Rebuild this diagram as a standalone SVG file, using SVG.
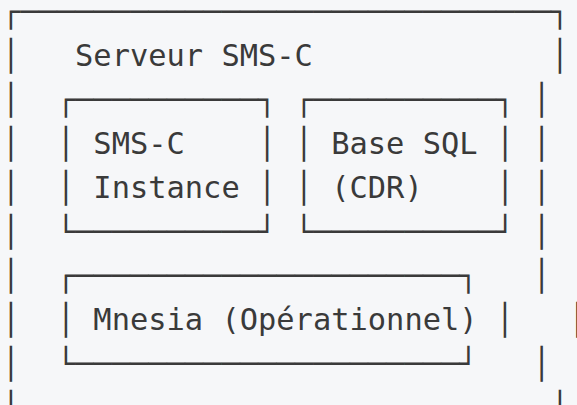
<svg xmlns="http://www.w3.org/2000/svg" width="577" height="405" viewBox="0 0 577 405">
<style>
  .t { font-family: "DejaVu Sans Mono", "Liberation Mono", monospace; font-size: 30.4px; fill: #3a3a3a; white-space: pre; }
</style>
<rect x="0" y="0" width="577" height="405" fill="#f6f7f9"/>
<g id="serveur-smsc">
  <text class="t" x="1.85" y="22">┌─────────────────────────────┐</text>
  <text class="t" x="1.85" y="66">│</text>
  <text class="t" x="75.05" y="66">Serveur SMS-C</text>
  <text class="t" x="550.85" y="66">│</text>
  <text class="t" x="1.85" y="110">│</text>
  <text class="t" x="1.85" y="154">│</text>
  <text class="t" x="1.85" y="198">│</text>
  <text class="t" x="1.85" y="242">│</text>
  <text class="t" x="1.85" y="286">│</text>
  <text class="t" x="1.85" y="330">│</text>
  <text class="t" x="1.85" y="374">│</text>
  <text class="t" x="1.85" y="418">│</text>
  <text class="t" x="532.55" y="110">│</text>
  <text class="t" x="532.55" y="154">│</text>
  <text class="t" x="532.55" y="198">│</text>
  <text class="t" x="532.55" y="242">│</text>
  <text class="t" x="532.55" y="286">│</text>
  <text class="t" x="568.15" y="330">│</text>
  <text class="t" x="532.55" y="374">│</text>
  <text class="t" x="550.85" y="418">│</text>
</g>
<g id="smsc-instance">
  <text class="t" x="56.75" y="110">┌──────────┐</text>
  <text class="t" x="56.75" y="154">│ SMS-C    │</text>
  <text class="t" x="56.75" y="198">│ Instance │</text>
  <text class="t" x="56.75" y="242">└──────────┘</text>
</g>
<g id="base-sql">
  <text class="t" x="294.65" y="110">┌──────────┐</text>
  <text class="t" x="294.65" y="154">│ Base SQL │</text>
  <text class="t" x="294.65" y="198">│ (CDR)    │</text>
  <text class="t" x="294.65" y="242">└──────────┘</text>
</g>
<g id="mnesia">
  <text class="t" x="56.75" y="286">┌─────────────────────┐</text>
  <text class="t" x="56.75" y="330">│ Mnesia (Opérationnel) │</text>
  <text class="t" x="56.75" y="374">└─────────────────────┘</text>
</g>
<g id="connectors"></g>
</svg>
